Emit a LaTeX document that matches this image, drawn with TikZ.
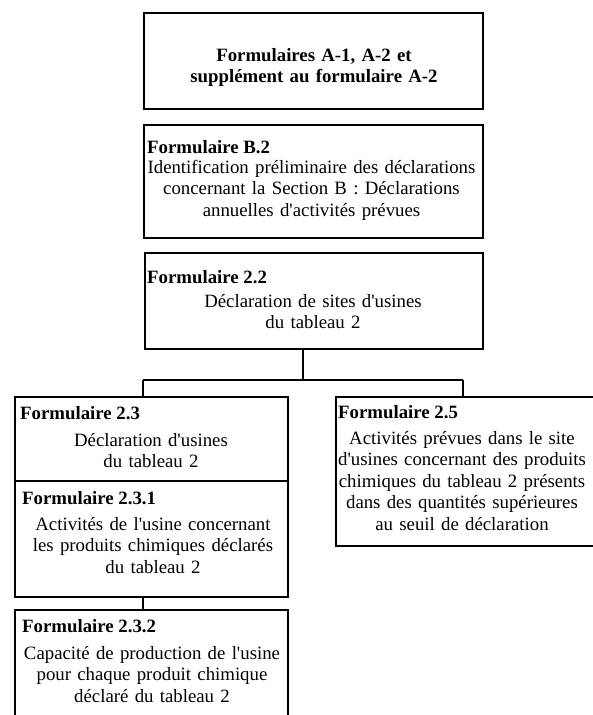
\documentclass[tikz,border=0pt]{standalone}
\usepackage{fontspec}
\setmainfont{Liberation Serif}[Ligatures=TeXOff]
\begin{document}
\begin{tikzpicture}[x=1pt,y=-1pt,
  box/.style={draw, line width=1.6pt, inner sep=0pt, anchor=north west},
  head/.style={anchor=base west, inner sep=0pt, font=\fontsize{18.8}{21.6}\selectfont\bfseries},
  body/.style={anchor=base, inner sep=0pt, align=center, text width=330pt, font=\fontsize{18.8}{21.6}\selectfont},
  conn/.style={line width=1.4pt}]
\useasboundingbox (0,0) rectangle (592,715);
% boxes
\node[box, minimum width=339pt, minimum height=96pt] (top) at (143,12) {};
\node[box, minimum width=339pt, minimum height=113pt] (b2) at (143,124) {};
\node[box, minimum width=338pt, minimum height=96pt] (n22) at (144,252) {};
\node[box, minimum width=273pt, minimum height=84pt] (n23) at (14,396) {};
\node[box, minimum width=273pt, minimum height=116pt] (n231) at (14,480) {};
\node[box, minimum width=273pt, minimum height=120pt] (n232) at (14,609) {};
\node[box, minimum width=260pt, minimum height=149pt] (n25) at (335,396) {};
% texts
\node[body, font=\fontsize{18.8}{21.6}\selectfont\bfseries] (ttop) at (314,61) {Formulaires A-1, A-2 et\\supplément au formulaire A-2};
\node[head] (hb2) at (147,153) {Formulaire B.2};
\node[body] (tb2) at (311.5,173) {Identification préliminaire des déclarations\\concernant la Section B : Déclarations\\annuelles d'activités prévues};
\node[head] (h22) at (147,283) {Formulaire 2.2};
\node[body] (t22) at (313,307) {Déclaration de sites d'usines\\du tableau 2};
\node[head] (h23) at (20,419) {Formulaire 2.3};
\node[body] (t23) at (151,446) {Déclaration d'usines\\du tableau 2};
\node[head] (h231) at (22,504) {Formulaire 2.3.1};
\node[body] (t231) at (153,530) {Activités de l'usine concernant\\les produits chimiques déclarés\\du tableau 2};
\node[head] (h232) at (22,632) {Formulaire 2.3.2};
\node[body] (t232) at (152,659) {Capacité de production de l'usine\\pour chaque produit chimique\\déclaré du tableau 2};
\node[head] (h25) at (338,418) {Formulaire 2.5};
\node[body] (t25) at (462,444) {Activités prévues dans le site\\d'usines concernant des produits\\chimiques du tableau 2 présents\\dans des quantités supérieures\\au seuil de déclaration};
% connectors
\coordinate (jt) at (303,380);
\coordinate (jl) at (143,380);
\coordinate (jr) at (463,380);
\draw[conn] (jt |- n22.south) -- (jt);
\draw[conn] (jl) -- (jr);
\draw[conn] (jl) -- (jl |- n23.north);
\draw[conn] (jr) -- (jr |- n25.north);
\draw[conn] (jl |- n231.south) -- (jl |- n232.north);
\end{tikzpicture}
\end{document}
